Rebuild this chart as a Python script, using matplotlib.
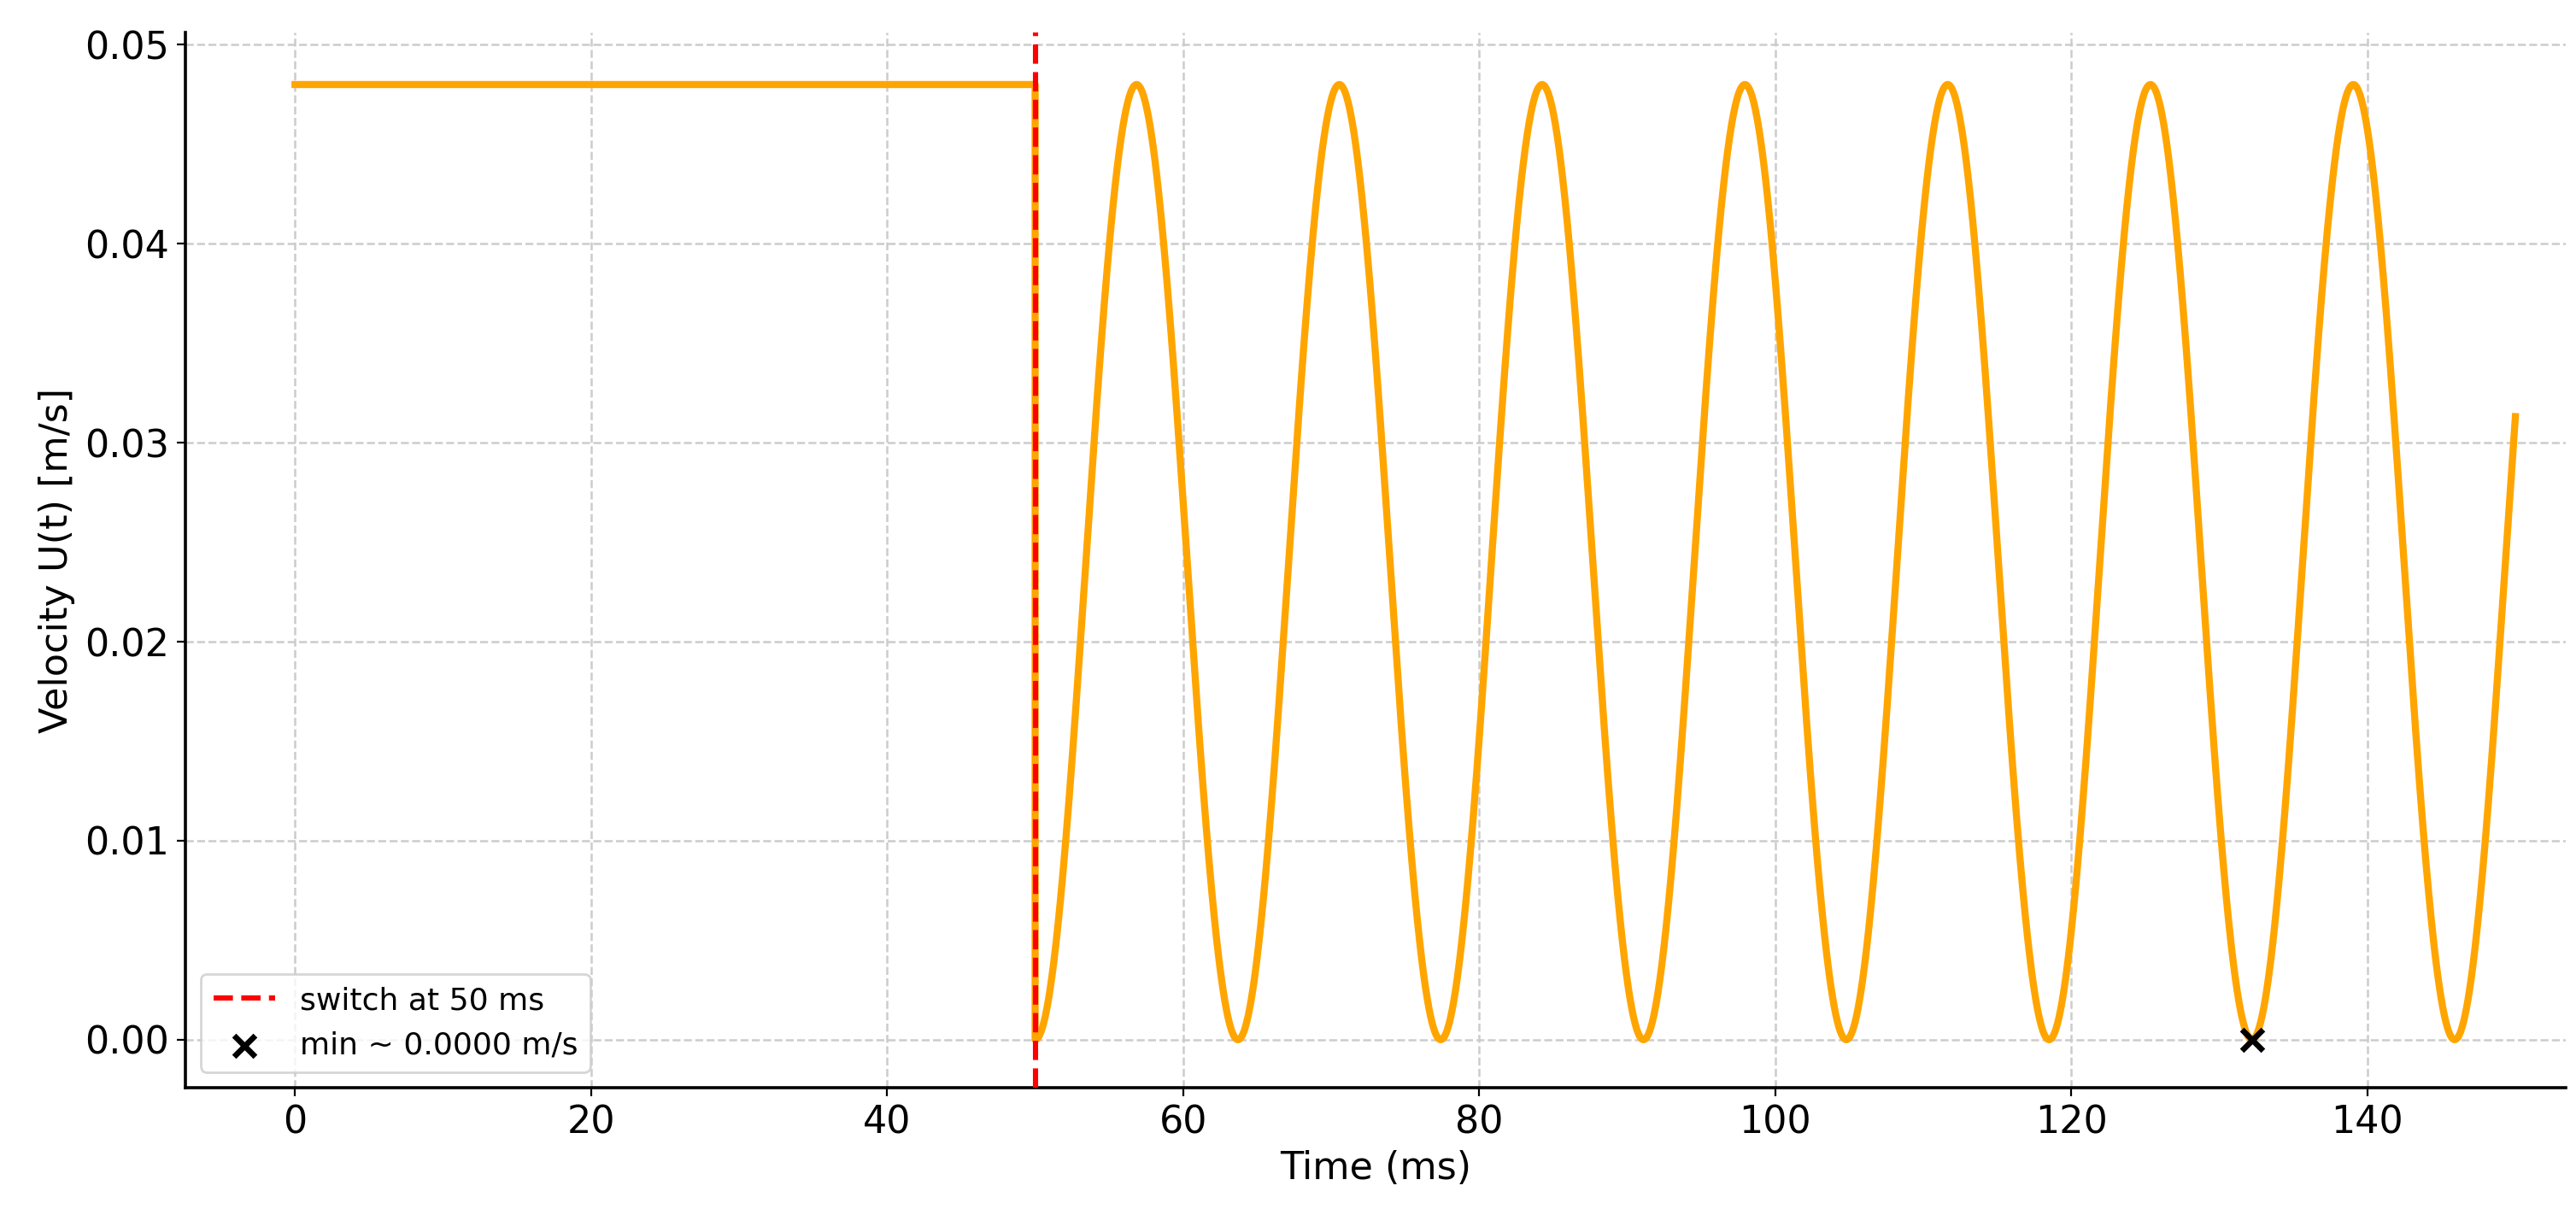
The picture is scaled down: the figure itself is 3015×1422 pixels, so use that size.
import numpy as np
import matplotlib
matplotlib.use("Agg")
import matplotlib.pyplot as plt

# data parameters
t_switch = 50.0
t_end = 150.0
u_const = 0.048
amplitude = 0.024
period = 13.7
min_t = 132.2
min_u = 0.0

t1 = np.linspace(0, t_switch, 200)
u1 = np.full_like(t1, u_const)
t2 = np.linspace(t_switch, t_end, 3000)
u2 = amplitude * (1 - np.cos(2 * np.pi * (t2 - t_switch) / period))
t = np.concatenate([t1, t2])
u = np.concatenate([u1, u2])

fig = plt.figure(figsize=(15.075, 7.11), dpi=200)
ax = fig.add_axes([0.072, 0.105, 0.924, 0.868])
ax.plot(t, u, color="#FFA500", lw=3, zorder=3)
ax.axvline(t_switch, color="red", ls="--", lw=2.2, label="switch at 50 ms", zorder=4)
ax.scatter([min_t], [min_u], marker="x", color="black", s=80, linewidths=2.4,
           label="min ~ 0.0000 m/s", zorder=5)
ax.set_xlim(-7.4, 153.4)
ax.set_ylim(-0.0024, 0.0506)
ax.set_xticks(np.arange(0, 141, 20))
ax.set_yticks(np.arange(0, 0.051, 0.01))
ax.yaxis.set_major_formatter(matplotlib.ticker.FormatStrFormatter("%.2f"))
ax.grid(True, ls="--", color="#cccccc", lw=0.9)
ax.spines["top"].set_visible(False)
ax.spines["right"].set_visible(False)
ax.spines["left"].set_linewidth(1.3)
ax.spines["bottom"].set_linewidth(1.3)
ax.tick_params(labelsize=16)
ax.set_xlabel("Time (ms)", fontsize=16)
ax.set_ylabel("Velocity U(t) [m/s]", fontsize=16)
ax.legend(loc="lower left", fontsize=13)
fig.savefig("out.png", dpi=200)
